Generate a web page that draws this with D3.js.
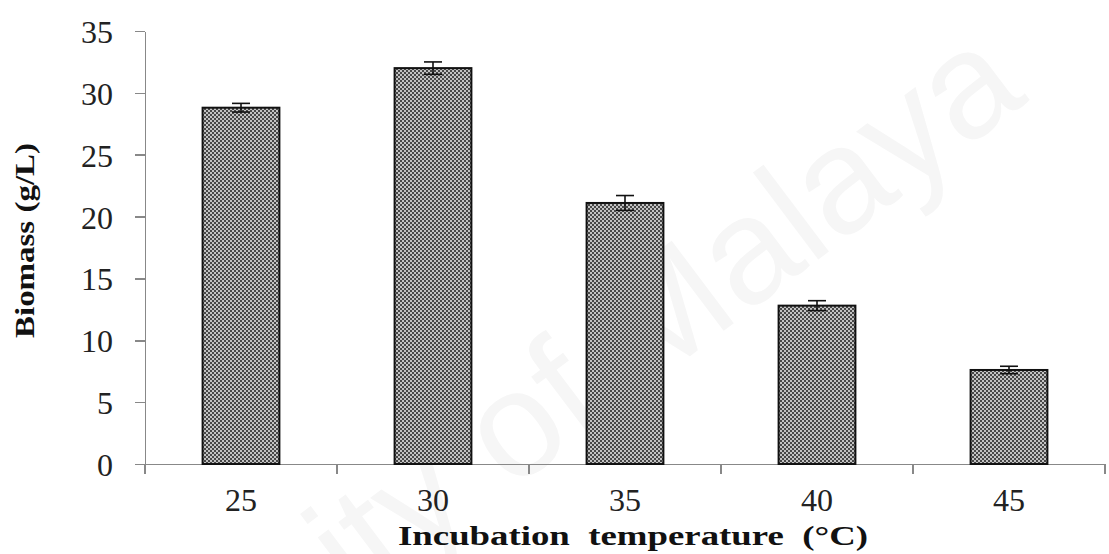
<!DOCTYPE html>
<html>
<head>
<meta charset="utf-8">
<script src="https://d3js.org/d3.v7.min.js"></script>
<style>
body { margin: 0; background: #fff; }
.axis path, .axis line { stroke: #888; stroke-width: 1.5; shape-rendering: crispEdges; }
.axis text { font-family: "Liberation Serif", "Times New Roman", serif; font-size: 32px; fill: #222; }
.title { font-family: "Liberation Serif", "Times New Roman", serif; font-weight: bold; fill: #111; }
</style>
</head>
<body>
<div id="chart"></div>
<script>
// data
var temps = ["25", "30", "35", "40", "45"];
var biomass = [28.8, 32.0, 21.1, 12.8, 7.6];
var errors = [0.35, 0.5, 0.6, 0.4, 0.3];
var yTicks = [0, 5, 10, 15, 20, 25, 30, 35];

var W = 1109, H = 554;
var plotL = 145, plotR = 1105, plotT = 31, plotB = 464;

var svg = d3.select("#chart").append("svg")
    .attr("width", W)
    .attr("height", H);

// checkered fill like the original print
var pat = svg.append("defs").append("pattern")
    .attr("id", "checker")
    .attr("patternUnits", "userSpaceOnUse")
    .attr("width", 4)
    .attr("height", 4);
pat.append("rect").attr("width", 4).attr("height", 4).attr("fill", "#c2c2c2");
pat.append("rect").attr("width", 2).attr("height", 2).attr("fill", "#474747");
pat.append("rect").attr("x", 2).attr("y", 2).attr("width", 2).attr("height", 2).attr("fill", "#474747");

// faint watermark
svg.append("text")
    .attr("transform", "translate(1030,100) rotate(-37)")
    .attr("text-anchor", "end")
    .style("font-family", "Liberation Sans, Arial, sans-serif")
    .style("font-size", "150px")
    .attr("fill", "#f6f6f6")
    .text("University of Malaya");

var x = d3.scaleBand().domain(temps).range([plotL, plotR]).padding(0);
var y = d3.scaleLinear().domain([0, 35]).range([plotB, plotT]);

var barW = x.bandwidth() * 0.4;

// y axis
svg.append("g")
    .attr("class", "axis")
    .attr("transform", "translate(" + plotL + ",0)")
    .call(d3.axisLeft(y).tickValues(yTicks).tickSize(10).tickSizeOuter(0).tickPadding(22))
    .selectAll("text").attr("dy", "0.36em");

// x axis (labels) + boundary ticks
var gx = svg.append("g")
    .attr("class", "axis")
    .attr("transform", "translate(0," + plotB + ")")
    .call(d3.axisBottom(x).tickSize(0).tickSizeOuter(0).tickPadding(24));
gx.selectAll(".tick line").remove();
gx.selectAll(".tick text").attr("dy", "0.72em");

gx.selectAll("line.bound")
    .data(d3.range(temps.length + 1))
    .enter().append("line")
    .attr("class", "bound")
    .attr("x1", function(i) { return plotL + i * x.step(); })
    .attr("x2", function(i) { return plotL + i * x.step(); })
    .attr("y1", 0)
    .attr("y2", 10);

// bars
var rows = temps.map(function(t, i) { return {t: t, v: biomass[i], e: errors[i]}; });

svg.selectAll("rect.bar")
    .data(rows)
    .enter().append("rect")
    .attr("class", "bar")
    .attr("x", function(d) { return x(d.t) + (x.bandwidth() - barW) / 2; })
    .attr("y", function(d) { return y(d.v); })
    .attr("width", barW)
    .attr("height", function(d) { return plotB - y(d.v); })
    .attr("fill", "url(#checker)")
    .attr("stroke", "#111")
    .attr("stroke-width", 2);

// error bars
var eb = svg.selectAll("g.err").data(rows).enter().append("g").attr("class", "err")
    .attr("stroke", "#111").attr("stroke-width", 1.6);
eb.append("line")
    .attr("x1", function(d) { return x(d.t) + x.bandwidth() / 2; })
    .attr("x2", function(d) { return x(d.t) + x.bandwidth() / 2; })
    .attr("y1", function(d) { return y(d.v - d.e); })
    .attr("y2", function(d) { return y(d.v + d.e); });
eb.selectAll("line.cap")
    .data(function(d) { return [d.v - d.e, d.v + d.e].map(function(v) { return {t: d.t, v: v}; }); })
    .enter().append("line")
    .attr("class", "cap")
    .attr("x1", function(d) { return x(d.t) + x.bandwidth() / 2 - 9; })
    .attr("x2", function(d) { return x(d.t) + x.bandwidth() / 2 + 9; })
    .attr("y1", function(d) { return y(d.v); })
    .attr("y2", function(d) { return y(d.v); });

// axis titles
svg.append("text")
    .attr("class", "title")
    .attr("x", 398)
    .attr("y", 545)
    .style("font-size", "27px")
    .attr("textLength", 470)
    .attr("lengthAdjust", "spacingAndGlyphs")
    .style("white-space", "pre")
    .text("Incubation  temperature  (\u00B0C)");

svg.append("text")
    .attr("class", "title")
    .attr("transform", "translate(34,338) rotate(-90)")
    .style("font-size", "27px")
    .attr("textLength", 195)
    .attr("lengthAdjust", "spacingAndGlyphs")
    .text("Biomass (g/L)");
</script>
</body>
</html>
